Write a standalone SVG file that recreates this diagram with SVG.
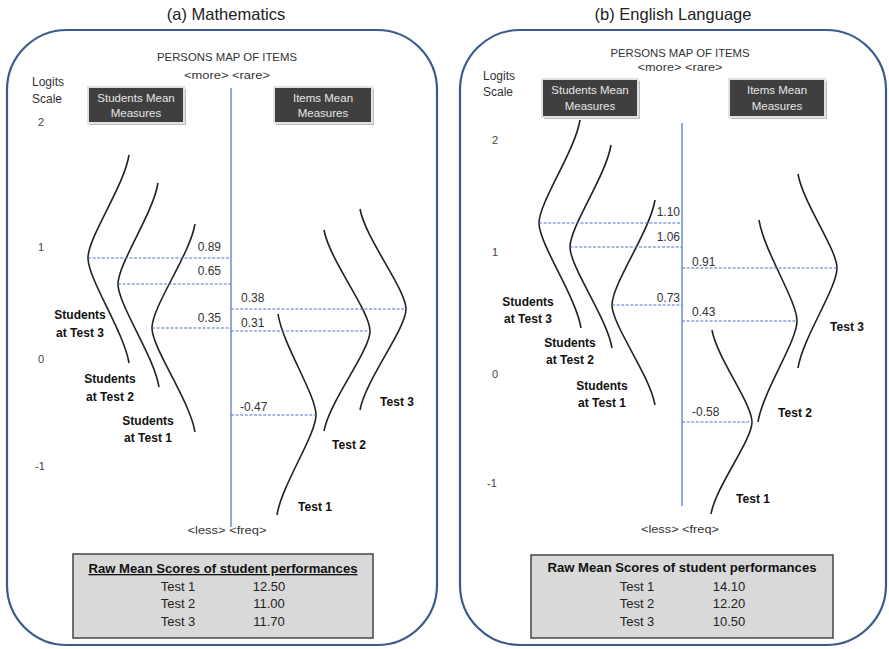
<svg xmlns="http://www.w3.org/2000/svg" width="889" height="649" viewBox="0 0 889 649">
<style>
text{font-family:"Liberation Sans",Arial,sans-serif;fill:#333}
.title{font-size:16.5px;fill:#222;text-anchor:middle}
.hdr{font-size:11.3px;text-anchor:middle}
.sub{font-size:10.5px;text-anchor:middle}
.logit{font-size:12px}
.tick{font-size:11px;fill:#444}
.panel{fill:#fff;stroke:#3b5b8c;stroke-width:2.2}
.axis{stroke:#8faadc;stroke-width:2}
.dash{stroke:#4f74c4;stroke-width:1.2;stroke-dasharray:3 1.6}
.curve{fill:none;stroke:#222;stroke-width:1.6}
.box{fill:#3f3f3f;stroke:#e2e2e2;stroke-width:2}
.boxsh{fill:#bdbdbd}
.boxt{font-size:11.5px;fill:#e6e6e6;text-anchor:middle}
.num{font-size:12px;fill:#333}
.lbl{font-size:12px;font-weight:bold;fill:#111;text-anchor:middle}
.tbl{fill:#d9d9d9;stroke:#444;stroke-width:1.5}
.th{font-size:13px;font-weight:bold;fill:#111;text-anchor:middle}
.td{font-size:13px;fill:#222;text-anchor:middle}
</style>

<!-- Left panel: Mathematics -->
<text class="title" x="226" y="20">(a) Mathematics</text>
<rect class="panel" x="7" y="30" width="430" height="615" rx="60" ry="60"/>
<text class="hdr" x="227" y="61" textLength="140" lengthAdjust="spacingAndGlyphs">PERSONS MAP OF ITEMS</text>
<text class="sub" x="227" y="79" textLength="86" lengthAdjust="spacingAndGlyphs">&lt;more&gt;  &lt;rare&gt;</text>
<text class="logit" x="32" y="86">Logits</text>
<text class="logit" x="32" y="103">Scale</text>
<text class="tick" x="38" y="126">2</text>
<text class="tick" x="38" y="251">1</text>
<text class="tick" x="38" y="363">0</text>
<text class="tick" x="35" y="470">-1</text>
<line class="axis" x1="231" y1="88" x2="231" y2="527"/>
<text class="sub" x="227" y="534" textLength="79" lengthAdjust="spacingAndGlyphs">&lt;less&gt;  &lt;freq&gt;</text>

<g id="a-students-box">
<rect class="boxsh" x="90" y="89" width="96" height="36"/>
<rect class="box" x="88" y="87" width="96" height="36"/>
<text class="boxt" x="136" y="102">Students Mean</text>
<text class="boxt" x="136" y="117">Measures</text>
</g>
<g id="a-items-box">
<rect class="boxsh" x="276" y="89" width="98" height="36"/>
<rect class="box" x="274" y="87" width="98" height="36"/>
<text class="boxt" x="323" y="102">Items Mean</text>
<text class="boxt" x="323" y="117">Measures</text>
</g>

<g id="a-students-test3">
<path class="curve" d="M129,155 C124,186.5 88,237 88,258 C88,279 124,332 129,363"/>
<text class="lbl" x="80" y="319">Students</text>
<text class="lbl" x="80" y="337">at Test 3</text>
</g>
<g id="a-students-test2">
<path class="curve" d="M158,183 C153.2,213.3 118,263.8 118,284 C118,304.6 154.1,356.1 159,387"/>
<text class="lbl" x="110" y="383">Students</text>
<text class="lbl" x="110" y="401">at Test 2</text>
</g>
<g id="a-students-test1">
<path class="curve" d="M195,224 C189.8,254.9 152,306.4 152,328 C152,348 189.8,400.5 195,432"/>
<text class="lbl" x="148" y="425">Students</text>
<text class="lbl" x="148" y="442">at Test 1</text>
</g>
<g id="a-items-test1">
<path class="curve" d="M278,314 C282.6,344.3 316,394.8 316,415 C316,435 281.7,485 277,515"/>
<text class="lbl" x="315" y="511">Test 1</text>
</g>
<g id="a-items-test2">
<path class="curve" d="M324,230 C329.5,260.3 370,310.8 370,331 C370,351 329.5,401 324,431"/>
<text class="lbl" x="349" y="449">Test 2</text>
</g>
<g id="a-items-test3">
<path class="curve" d="M360,209 C365.5,239 406,289 406,309 C406,329.2 365.5,379.7 360,410"/>
<text class="lbl" x="397" y="406">Test 3</text>
</g>

<g id="a-connectors">
<line class="dash" x1="88" y1="258" x2="231" y2="258"/>
<line class="dash" x1="118" y1="284" x2="231" y2="284"/>
<line class="dash" x1="152" y1="328" x2="231" y2="328"/>
<line class="dash" x1="231" y1="309" x2="406" y2="309"/>
<line class="dash" x1="231" y1="331" x2="370" y2="331"/>
<line class="dash" x1="231" y1="415" x2="316" y2="415"/>
</g>
<g id="a-values">
<text class="num" x="221" y="251" text-anchor="end">0.89</text>
<text class="num" x="221" y="275" text-anchor="end">0.65</text>
<text class="num" x="221" y="322" text-anchor="end">0.35</text>
<text class="num" x="241" y="302">0.38</text>
<text class="num" x="241" y="327">0.31</text>
<text class="num" x="240" y="411">-0.47</text>
</g>

<g id="a-table">
<rect class="tbl" x="73" y="554" width="300" height="84"/>
<text class="th" x="223" y="573" text-decoration="underline" textLength="269" lengthAdjust="spacingAndGlyphs">Raw Mean Scores of student performances</text>
<text class="td" x="178" y="591">Test 1</text><text class="td" x="269" y="591">12.50</text>
<text class="td" x="178" y="608">Test 2</text><text class="td" x="269" y="608">11.00</text>
<text class="td" x="178" y="626">Test 3</text><text class="td" x="269" y="626">11.70</text>
</g>

<!-- Right panel: English Language -->
<text class="title" x="673" y="20">(b) English Language</text>
<rect class="panel" x="460" y="30" width="426" height="615" rx="60" ry="60"/>
<text class="hdr" x="680" y="57" textLength="139" lengthAdjust="spacingAndGlyphs">PERSONS MAP OF ITEMS</text>
<text class="sub" x="680" y="71" textLength="85" lengthAdjust="spacingAndGlyphs">&lt;more&gt;  &lt;rare&gt;</text>
<text class="logit" x="483" y="80">Logits</text>
<text class="logit" x="483" y="96">Scale</text>
<text class="tick" x="492" y="144">2</text>
<text class="tick" x="492" y="256">1</text>
<text class="tick" x="492" y="378">0</text>
<text class="tick" x="487" y="487">-1</text>
<line class="axis" x1="682" y1="123" x2="682" y2="506"/>
<text class="sub" x="680" y="533" textLength="78" lengthAdjust="spacingAndGlyphs">&lt;less&gt;  &lt;freq&gt;</text>

<g id="b-students-box">
<rect class="boxsh" x="544" y="81" width="96" height="38"/>
<rect class="box" x="542" y="79" width="96" height="38"/>
<text class="boxt" x="590" y="94">Students Mean</text>
<text class="boxt" x="590" y="110">Measures</text>
</g>
<g id="b-items-box">
<rect class="boxsh" x="731" y="81" width="96" height="38"/>
<rect class="box" x="729" y="79" width="96" height="38"/>
<text class="boxt" x="777" y="94">Items Mean</text>
<text class="boxt" x="777" y="110">Measures</text>
</g>

<g id="b-students-test3">
<path class="curve" d="M580,120 C575.1,150.9 539,202.4 539,223 C539,244 576,296.5 581,328"/>
<text class="lbl" x="528" y="306">Students</text>
<text class="lbl" x="528" y="323">at Test 3</text>
</g>
<g id="b-students-test2">
<path class="curve" d="M611,145 C606.1,175.6 570,226.6 570,247 C570,267.2 607,317.7 612,348"/>
<text class="lbl" x="570" y="347">Students</text>
<text class="lbl" x="570" y="364">at Test 2</text>
</g>
<g id="b-students-test1">
<path class="curve" d="M655,200 C649.8,231.5 612,284 612,305 C612,325 649.8,375 655,405"/>
<text class="lbl" x="602" y="390">Students</text>
<text class="lbl" x="602" y="407">at Test 1</text>
</g>
<g id="b-items-test3">
<path class="curve" d="M798,174 C802.7,202.2 837,249.2 837,268 C837,288 802.7,338 798,368"/>
<text class="lbl" x="847" y="331">Test 3</text>
</g>
<g id="b-items-test2">
<path class="curve" d="M759,220 C763.6,250.3 797,300.8 797,321 C797,341.2 762.7,391.7 758,422"/>
<text class="lbl" x="795" y="417">Test 2</text>
</g>
<g id="b-items-test1">
<path class="curve" d="M712,330 C716.8,357.6 752,403.6 752,422 C752,440.4 715.9,486.4 711,514"/>
<text class="lbl" x="753" y="503">Test 1</text>
</g>

<g id="b-connectors">
<line class="dash" x1="539" y1="223" x2="682" y2="223"/>
<line class="dash" x1="570" y1="247" x2="682" y2="247"/>
<line class="dash" x1="612" y1="305" x2="682" y2="305"/>
<line class="dash" x1="682" y1="268" x2="837" y2="268"/>
<line class="dash" x1="682" y1="321" x2="797" y2="321"/>
<line class="dash" x1="682" y1="422" x2="752" y2="422"/>
</g>
<g id="b-values">
<text class="num" x="680" y="216" text-anchor="end">1.10</text>
<text class="num" x="680" y="241" text-anchor="end">1.06</text>
<text class="num" x="680" y="302" text-anchor="end">0.73</text>
<text class="num" x="692" y="266">0.91</text>
<text class="num" x="692" y="316">0.43</text>
<text class="num" x="692" y="416">-0.58</text>
</g>

<g id="b-table">
<rect class="tbl" x="531" y="555" width="302" height="83"/>
<text class="th" x="682" y="572" textLength="269" lengthAdjust="spacingAndGlyphs">Raw Mean Scores of student performances</text>
<text class="td" x="637" y="591">Test 1</text><text class="td" x="729" y="591">14.10</text>
<text class="td" x="637" y="608">Test 2</text><text class="td" x="729" y="608">12.20</text>
<text class="td" x="637" y="626">Test 3</text><text class="td" x="729" y="626">10.50</text>
</g>
</svg>
